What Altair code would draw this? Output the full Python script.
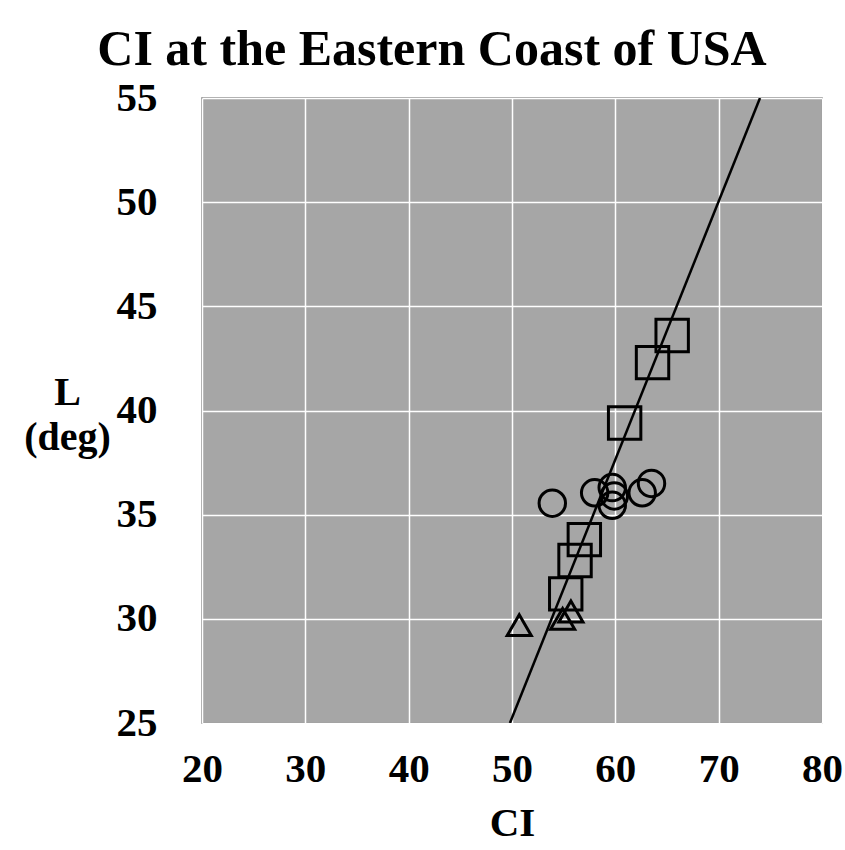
import altair as alt
import pandas as pd

# Observed points, grouped by marker shape
square_ci = [65.5, 63.6, 60.9, 57.0, 56.1, 55.2]
square_lat = [43.6, 42.3, 39.4, 33.8, 32.8, 31.2]

circle_ci = [53.9, 58.0, 59.7, 59.9, 59.7, 62.6, 63.5]
circle_lat = [35.55, 36.05, 36.3, 35.9, 35.45, 36.05, 36.5]

triangle_ci = [50.7, 54.9, 55.7]
triangle_lat = [29.7, 30.0, 30.35]

# Fitted trend line endpoints
fit_ci = [49.8, 74.0]
fit_lat = [25.0, 55.0]

x_ticks = [20, 30, 40, 50, 60, 70, 80]
y_ticks = [25, 30, 35, 40, 45, 50, 55]

FONT = "Liberation Serif"

df_sq = pd.DataFrame({"CI": square_ci, "L": square_lat})
df_ci = pd.DataFrame({"CI": circle_ci, "L": circle_lat})
df_tr = pd.DataFrame({"CI": triangle_ci, "L": triangle_lat})
df_fit = pd.DataFrame({"CI": fit_ci, "L": fit_lat})

x_enc = alt.X(
    "CI:Q",
    scale=alt.Scale(domain=[20, 80], nice=False, zero=False),
    axis=alt.Axis(
        values=x_ticks,
        title="CI",
        grid=True,
        gridColor="white",
        gridWidth=1.5,
        domain=False,
        ticks=False,
        labelFont=FONT,
        labelFontSize=41,
        labelFontWeight="bold",
        labelColor="black",
        labelPadding=26,
        labelFlush=False,
        titleFont=FONT,
        titleFontSize=41,
        titleFontWeight="bold",
        titleColor="black",
        titleBaseline="alphabetic",
        titleX=310,
        titleY=112,
    ),
)

y_enc = alt.Y(
    "L:Q",
    scale=alt.Scale(domain=[25, 55], nice=False, zero=False),
    axis=alt.Axis(
        values=y_ticks,
        title=["L", "(deg)"],
        grid=True,
        gridColor="white",
        gridWidth=1.5,
        domain=False,
        ticks=False,
        labelFont=FONT,
        labelFontSize=41,
        labelFontWeight="bold",
        labelColor="black",
        labelPadding=45,
        labelFlush=False,
        titleFont=FONT,
        titleFontSize=40,
        titleFontWeight="bold",
        titleColor="black",
        titleAngle=0,
        titleAlign="center",
        titleBaseline="alphabetic",
        titleLineHeight=45,
        titleX=-135,
        titleY=306,
    ),
)

squares = alt.Chart(df_sq).mark_point(
    shape="square", size=1050, filled=False, stroke="black", strokeWidth=3, opacity=1
).encode(x=x_enc, y=y_enc)

circles = alt.Chart(df_ci).mark_point(
    shape="circle", size=700, filled=False, stroke="black", strokeWidth=3, opacity=1
).encode(x="CI:Q", y="L:Q")

triangles = alt.Chart(df_tr).mark_point(
    shape="triangle-up", size=580, filled=False, stroke="black", strokeWidth=3, opacity=1
).encode(x="CI:Q", y="L:Q")

trend = alt.Chart(df_fit).mark_line(color="black", strokeWidth=2.5, clip=True).encode(
    x="CI:Q", y="L:Q"
)

chart = (
    alt.layer(squares, circles, triangles, trend)
    .properties(
        width=620,
        height=625,
        autosize=alt.AutoSizeParams(type="none"),
        padding={"left": 202, "top": 98, "right": 23, "bottom": 127},
        background="white",
        title=alt.TitleParams(
            text="CI at the Eastern Coast of USA",
            font=FONT,
            fontSize=50,
            fontWeight="bold",
            color="black",
            anchor="middle",
            frame="group",
            dx=-80,
            offset=2,
        ),
    )
    .configure_view(fill="#a6a6a6", stroke="#7a7a7a", strokeWidth=1.5)
)

chart.save("out.html", embed_options={"renderer": "svg", "actions": False})
